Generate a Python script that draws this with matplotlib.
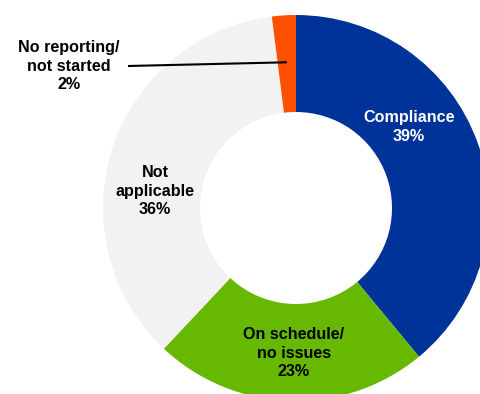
import numpy as np
import matplotlib
matplotlib.use("Agg")
import matplotlib.pyplot as plt

# status shares, clockwise from 12 o'clock
categories = ["Compliance", "On schedule/\nno issues", "Not\napplicable", "No reporting/\nnot started"]
shares = [39, 23, 36, 2]
colors = ["#003399", "#66b800", "#f2f2f2", "#ff5000"]
text_colors = ["white", "black", "black", "black"]

plt.rcParams['font.family'] = ['Liberation Sans', 'DejaVu Sans']

fig = plt.figure(figsize=(4.8, 3.94), dpi=100)
ax = fig.add_axes([0, 0, 1, 1])

cx, cy = 296, 186
R = 193
ax.pie(shares, colors=colors, radius=R, center=(cx, cy), startangle=90,
       counterclock=False, wedgeprops=dict(width=97, linewidth=0),
       frame=True)
ax.set_xlim(0, 480)
ax.set_ylim(0, 394)
ax.set_aspect("equal")
ax.axis("off")

# label spots (pixel coords, y measured from the bottom)
label_xy = [(409, 267), (294, 41), (155, 203), (69, 328)]
for name, val, (x, y), tc in zip(categories, shares, label_xy, text_colors):
    ax.text(x, y, f"{name}\n{val}%", ha="center", va="center", color=tc,
            fontsize=11.6, fontweight="bold", linespacing=1.3)

# leader line into the small slice
mid = 90 - (sum(shares[:3]) + shares[3] / 2) / sum(shares) * 360
ex = cx + 146 * np.cos(np.radians(mid))
ey = cy + 146 * np.sin(np.radians(mid))
ax.plot([128, ex], [328, ey], color="black", lw=1.5, solid_capstyle="butt")

fig.savefig("out.png", dpi=100)
